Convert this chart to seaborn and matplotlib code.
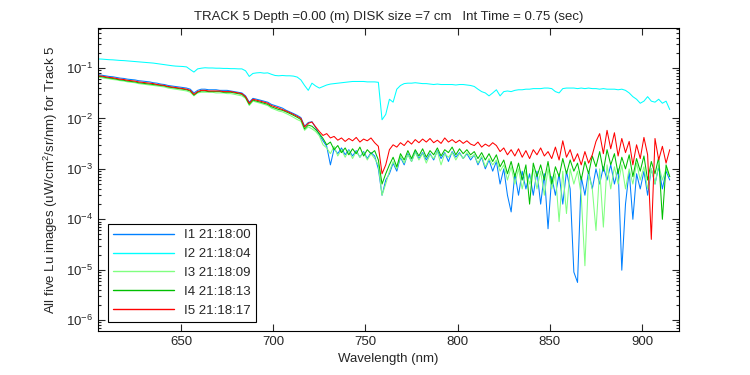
import numpy as np
import pandas as pd
import seaborn as sns
import matplotlib.pyplot as plt
from matplotlib.ticker import LogLocator, NullFormatter

# wavelength grid (nm), 2 nm sampling
wavelength = np.arange(605, 917, 2)

labels = ['I1 21:18:00', 'I2 21:18:04', 'I3 21:18:09', 'I4 21:18:13', 'I5 21:18:17']
colors = ['#0080ff', '#00ffff', '#80ff80', '#00bf00', '#ff0000']

# I1 (blue)
i1 = [0.074, 0.072, 0.070, 0.068, 0.067, 0.065, 0.063, 0.062, 0.060, 0.059,
      0.058, 0.056, 0.055, 0.054, 0.053, 0.051, 0.050, 0.048, 0.047, 0.045,
      0.044, 0.043, 0.042, 0.041, 0.040, 0.038, 0.032, 0.036, 0.038, 0.038,
      0.037, 0.037, 0.037, 0.036, 0.036, 0.036, 0.035, 0.034, 0.033, 0.032,
      0.028, 0.021, 0.025, 0.024, 0.023, 0.022, 0.021, 0.019, 0.018, 0.017,
      0.016, 0.0145, 0.0135, 0.0125, 0.0115, 0.0104, 0.0070, 0.0083, 0.0086, 0.0066,
      0.0048, 0.0036, 0.0028, 0.0012, 0.0025, 0.0020, 0.0026, 0.0019, 0.0024, 0.0018,
      0.0023, 0.0017, 0.0022, 0.0016, 0.0021, 0.0018, 0.0010, 0.0003, 0.0006, 0.0008,
      0.0013, 0.0009, 0.0017, 0.0012, 0.0020, 0.0014, 0.0022, 0.0016, 0.0021, 0.0015,
      0.0020, 0.0015, 0.0023, 0.0016, 0.0021, 0.0014, 0.0022, 0.0017, 0.0021, 0.0016,
      0.0020, 0.0015, 0.0019, 0.0012, 0.0017, 0.0010, 0.0015, 0.0009, 0.0014, 0.0005,
      0.0010, 0.0003, 0.00014, 0.0008, 0.0003, 0.0009, 0.0004, 0.0008, 0.0003, 0.0009,
      0.0002, 0.0008, 0.000065, 0.0007, 0.0003, 0.0008, 0.0002, 0.0009, 0.0004, 0.000009,
      0.0000056, 0.0007, 0.0003, 0.0009, 0.0004, 0.0010, 0.0005, 0.0011, 0.0006, 0.0012,
      0.0005, 0.0010, 0.0000098, 0.0002, 0.0009, 0.0001, 0.0008, 0.0004, 0.0009, 0.0003,
      0.0010, 0.0005, 0.0011, 0.0004, 0.0009, 0.0006]

# I2 (cyan)
i2 = [0.151, 0.150, 0.148, 0.146, 0.145, 0.143, 0.141, 0.140, 0.138, 0.136,
      0.134, 0.132, 0.130, 0.128, 0.126, 0.125, 0.122, 0.119, 0.116, 0.113,
      0.111, 0.109, 0.108, 0.107, 0.105, 0.093, 0.083, 0.096, 0.099, 0.101,
      0.100, 0.100, 0.099, 0.099, 0.098, 0.098, 0.097, 0.097, 0.096, 0.096,
      0.088, 0.068, 0.078, 0.080, 0.081, 0.079, 0.080, 0.075, 0.071, 0.070,
      0.071, 0.070, 0.070, 0.069, 0.066, 0.058, 0.045, 0.036, 0.050, 0.044,
      0.040, 0.043, 0.046, 0.048, 0.049, 0.050, 0.051, 0.052, 0.053, 0.054,
      0.054, 0.054, 0.054, 0.053, 0.053, 0.053, 0.052, 0.0094, 0.012, 0.024,
      0.021, 0.038, 0.045, 0.049, 0.050, 0.050, 0.051, 0.050, 0.049, 0.049,
      0.048, 0.047, 0.048, 0.047, 0.047, 0.047, 0.047, 0.046, 0.047, 0.047,
      0.046, 0.045, 0.043, 0.038, 0.034, 0.032, 0.028, 0.032, 0.037, 0.028,
      0.034, 0.035, 0.034, 0.036, 0.037, 0.037, 0.038, 0.038, 0.039, 0.039,
      0.039, 0.040, 0.040, 0.039, 0.034, 0.032, 0.039, 0.040, 0.040, 0.040,
      0.039, 0.040, 0.039, 0.040, 0.039, 0.039, 0.038, 0.039, 0.038, 0.038,
      0.038, 0.037, 0.038, 0.036, 0.032, 0.027, 0.024, 0.020, 0.022, 0.027,
      0.022, 0.021, 0.024, 0.020, 0.022, 0.015]

# I3 (light green)
i3 = [0.066, 0.064, 0.062, 0.061, 0.059, 0.058, 0.056, 0.055, 0.053, 0.052,
      0.051, 0.049, 0.048, 0.047, 0.046, 0.045, 0.044, 0.043, 0.042, 0.040,
      0.039, 0.038, 0.037, 0.036, 0.035, 0.033, 0.028, 0.032, 0.033, 0.033,
      0.033, 0.033, 0.032, 0.032, 0.032, 0.031, 0.031, 0.030, 0.029, 0.028,
      0.025, 0.018, 0.022, 0.021, 0.020, 0.019, 0.018, 0.016, 0.015, 0.014,
      0.0135, 0.0125, 0.0115, 0.0105, 0.0095, 0.0088, 0.0058, 0.0068, 0.0062, 0.0055,
      0.0045, 0.0030, 0.0026, 0.0020, 0.0028, 0.0018, 0.0024, 0.0017, 0.0023, 0.0016,
      0.0022, 0.0017, 0.0021, 0.0015, 0.0020, 0.0016, 0.0012, 0.0003, 0.0005, 0.0009,
      0.0014, 0.0010, 0.0018, 0.0013, 0.0019, 0.0014, 0.0021, 0.0015, 0.0020, 0.0013,
      0.0019, 0.0016, 0.0022, 0.0012, 0.0020, 0.0017, 0.0021, 0.0015, 0.0020, 0.0016,
      0.0021, 0.0017, 0.0019, 0.0013, 0.0018, 0.0011, 0.0016, 0.0012, 0.0015, 0.0009,
      0.0012, 0.0006, 0.0011, 0.0005, 0.0010, 0.0004, 0.0009, 0.0005, 0.0010, 0.0004,
      0.0009, 0.0003, 0.0010, 0.0004, 0.0008, 0.00009, 0.0009, 0.00013, 0.0010, 0.0005,
      0.0009, 0.0003, 0.000012, 0.0008, 0.0004, 0.00006, 0.0010, 0.00007, 0.0012, 0.0004,
      0.0011, 0.0005, 0.0012, 0.0004, 0.0010, 0.0005, 0.0013, 0.0006, 0.0011, 0.0004,
      0.0010, 0.0005, 0.0012, 0.0006, 0.0010, 0.0007]

# I4 (green)
i4 = [0.068, 0.067, 0.065, 0.063, 0.062, 0.060, 0.058, 0.057, 0.055, 0.054,
      0.053, 0.051, 0.050, 0.049, 0.048, 0.047, 0.046, 0.045, 0.044, 0.042,
      0.041, 0.040, 0.039, 0.038, 0.037, 0.035, 0.029, 0.033, 0.035, 0.035,
      0.034, 0.034, 0.034, 0.034, 0.033, 0.033, 0.033, 0.032, 0.031, 0.030,
      0.026, 0.019, 0.023, 0.022, 0.021, 0.020, 0.019, 0.017, 0.016, 0.015,
      0.0145, 0.0135, 0.0125, 0.0115, 0.0105, 0.0095, 0.0062, 0.0074, 0.0070, 0.0060,
      0.0050, 0.0040, 0.0030, 0.0034, 0.0024, 0.0029, 0.0021, 0.0026, 0.0019, 0.0025,
      0.0020, 0.0027, 0.0018, 0.0024, 0.0020, 0.0023, 0.0015, 0.0005, 0.0008, 0.0012,
      0.0017, 0.0011, 0.0020, 0.0015, 0.0023, 0.0016, 0.0024, 0.0018, 0.0025, 0.0017,
      0.0023, 0.0019, 0.0026, 0.0018, 0.0024, 0.0021, 0.0027, 0.0019, 0.0025, 0.0020,
      0.0024, 0.0019, 0.0022, 0.0016, 0.0021, 0.0015, 0.0020, 0.0014, 0.0019, 0.0011,
      0.0015, 0.0008, 0.0014, 0.0007, 0.0013, 0.0006, 0.0012, 0.0002, 0.0013, 0.0007,
      0.0012, 0.0006, 0.0014, 0.0005, 0.0011, 0.0007, 0.0016, 0.0008, 0.0015, 0.0009,
      0.0013, 0.0006, 0.0014, 0.0008, 0.0018, 0.0011, 0.0022, 0.0009, 0.0024, 0.0012,
      0.0020, 0.0008, 0.0017, 0.0010, 0.0019, 0.0007, 0.0016, 0.0009, 0.0018, 0.0006,
      0.0014, 0.0008, 0.0017, 0.0001, 0.0012, 0.0007]

# I5 (red)
i5 = [0.070, 0.069, 0.067, 0.065, 0.064, 0.062, 0.060, 0.059, 0.057, 0.056,
      0.055, 0.053, 0.052, 0.051, 0.050, 0.049, 0.047, 0.046, 0.045, 0.043,
      0.042, 0.041, 0.040, 0.039, 0.038, 0.036, 0.030, 0.034, 0.036, 0.036,
      0.035, 0.035, 0.035, 0.035, 0.034, 0.034, 0.034, 0.033, 0.032, 0.031,
      0.027, 0.020, 0.024, 0.023, 0.022, 0.021, 0.020, 0.018, 0.017, 0.016,
      0.015, 0.014, 0.013, 0.012, 0.011, 0.0100, 0.0068, 0.0080, 0.0085, 0.0068,
      0.0055, 0.0046, 0.0050, 0.0041, 0.0044, 0.0037, 0.0041, 0.0035, 0.0040, 0.0036,
      0.0042, 0.0034, 0.0039, 0.0036, 0.0041, 0.0033, 0.0028, 0.0008, 0.0012, 0.0024,
      0.0030, 0.0027, 0.0033, 0.0029, 0.0036, 0.0031, 0.0038, 0.0033, 0.0039, 0.0034,
      0.0040, 0.0033, 0.0037, 0.0032, 0.0041, 0.0034, 0.0038, 0.0033, 0.0037, 0.0032,
      0.0036, 0.0031, 0.0029, 0.0034, 0.0027, 0.0031, 0.0028, 0.0033, 0.0029, 0.0022,
      0.0026, 0.0019, 0.0024, 0.0018, 0.0025, 0.0017, 0.0023, 0.0016, 0.0024, 0.0019,
      0.0026, 0.0018, 0.0022, 0.0016, 0.0027, 0.0015, 0.0036, 0.0017, 0.0024, 0.0014,
      0.0020, 0.0012, 0.0022, 0.0013, 0.0019, 0.0035, 0.0050, 0.0020, 0.0058, 0.0025,
      0.0052, 0.0018, 0.0040, 0.0021, 0.0035, 0.0012, 0.0030, 0.0016, 0.0042, 0.0019,
      0.00004, 0.0040, 0.0015, 0.0028, 0.0013, 0.0024]

title = 'TRACK 5 Depth =0.00 (m) DISK size =7 cm   Int Time = 0.75 (sec)'


def main():
    sns.set_style('ticks')
    plt.rcParams['font.family'] = ['Liberation Sans', 'DejaVu Sans']
    plt.rcParams['mathtext.fontset'] = 'custom'
    plt.rcParams['mathtext.rm'] = 'Liberation Sans'
    plt.rcParams['mathtext.it'] = 'Liberation Sans'
    fs = 9.5

    frames = []
    for lab, vals in zip(labels, [i1, i2, i3, i4, i5]):
        frames.append(pd.DataFrame({'wl': wavelength, 'lu': vals, 'image': lab}))
    df = pd.concat(frames, ignore_index=True)

    fig = plt.figure(figsize=(7.5, 3.75), dpi=100)
    ax = fig.add_axes([0.1307, 0.1173, 0.7746, 0.808])

    sns.lineplot(data=df, x='wl', y='lu', hue='image', hue_order=labels,
                 palette=colors, estimator=None, sort=False, linewidth=0.75, ax=ax)

    ax.set_yscale('log')
    ax.set_xlim(605, 920)
    ax.set_ylim(6.1e-7, 0.62)
    ax.set_xticks([650, 700, 750, 800, 850, 900])
    ax.set_yticks([1e-6, 1e-5, 1e-4, 1e-3, 1e-2, 1e-1])
    ax.set_yticklabels([r'$10^{-6}$', r'$10^{-5}$', r'$10^{-4}$',
                        r'$10^{-3}$', r'$10^{-2}$', r'$10^{-1}$'])
    ax.yaxis.set_minor_locator(LogLocator(base=10, subs=np.arange(2, 10), numticks=20))
    ax.yaxis.set_minor_formatter(NullFormatter())
    ax.tick_params(which='both', direction='in', top=True, right=True, width=0.8)
    ax.tick_params(which='major', length=5, labelsize=fs)
    ax.tick_params(which='minor', length=2.5)
    for sp in ax.spines.values():
        sp.set_linewidth(0.8)
        sp.set_color('black')

    ax.set_xlabel('Wavelength (nm)', fontsize=fs)
    ax.set_ylabel('All five Lu images (uW/cm$^2$/sr/nm) for Track 5', fontsize=fs)
    ax.set_title(title, fontsize=fs)

    handles, labs = ax.get_legend_handles_labels()
    leg = ax.legend(handles, labs, loc='lower left', bbox_to_anchor=(0.017, 0.03),
                    borderaxespad=0, frameon=True, fancybox=False, edgecolor='black',
                    framealpha=1, fontsize=fs, handlelength=4.6, labelspacing=0.5)
    leg.get_frame().set_linewidth(0.8)
    for line in leg.get_lines():
        line.set_linewidth(1.0)

    fig.savefig('out.png', dpi=100, facecolor='white')


if __name__ == '__main__':
    main()
